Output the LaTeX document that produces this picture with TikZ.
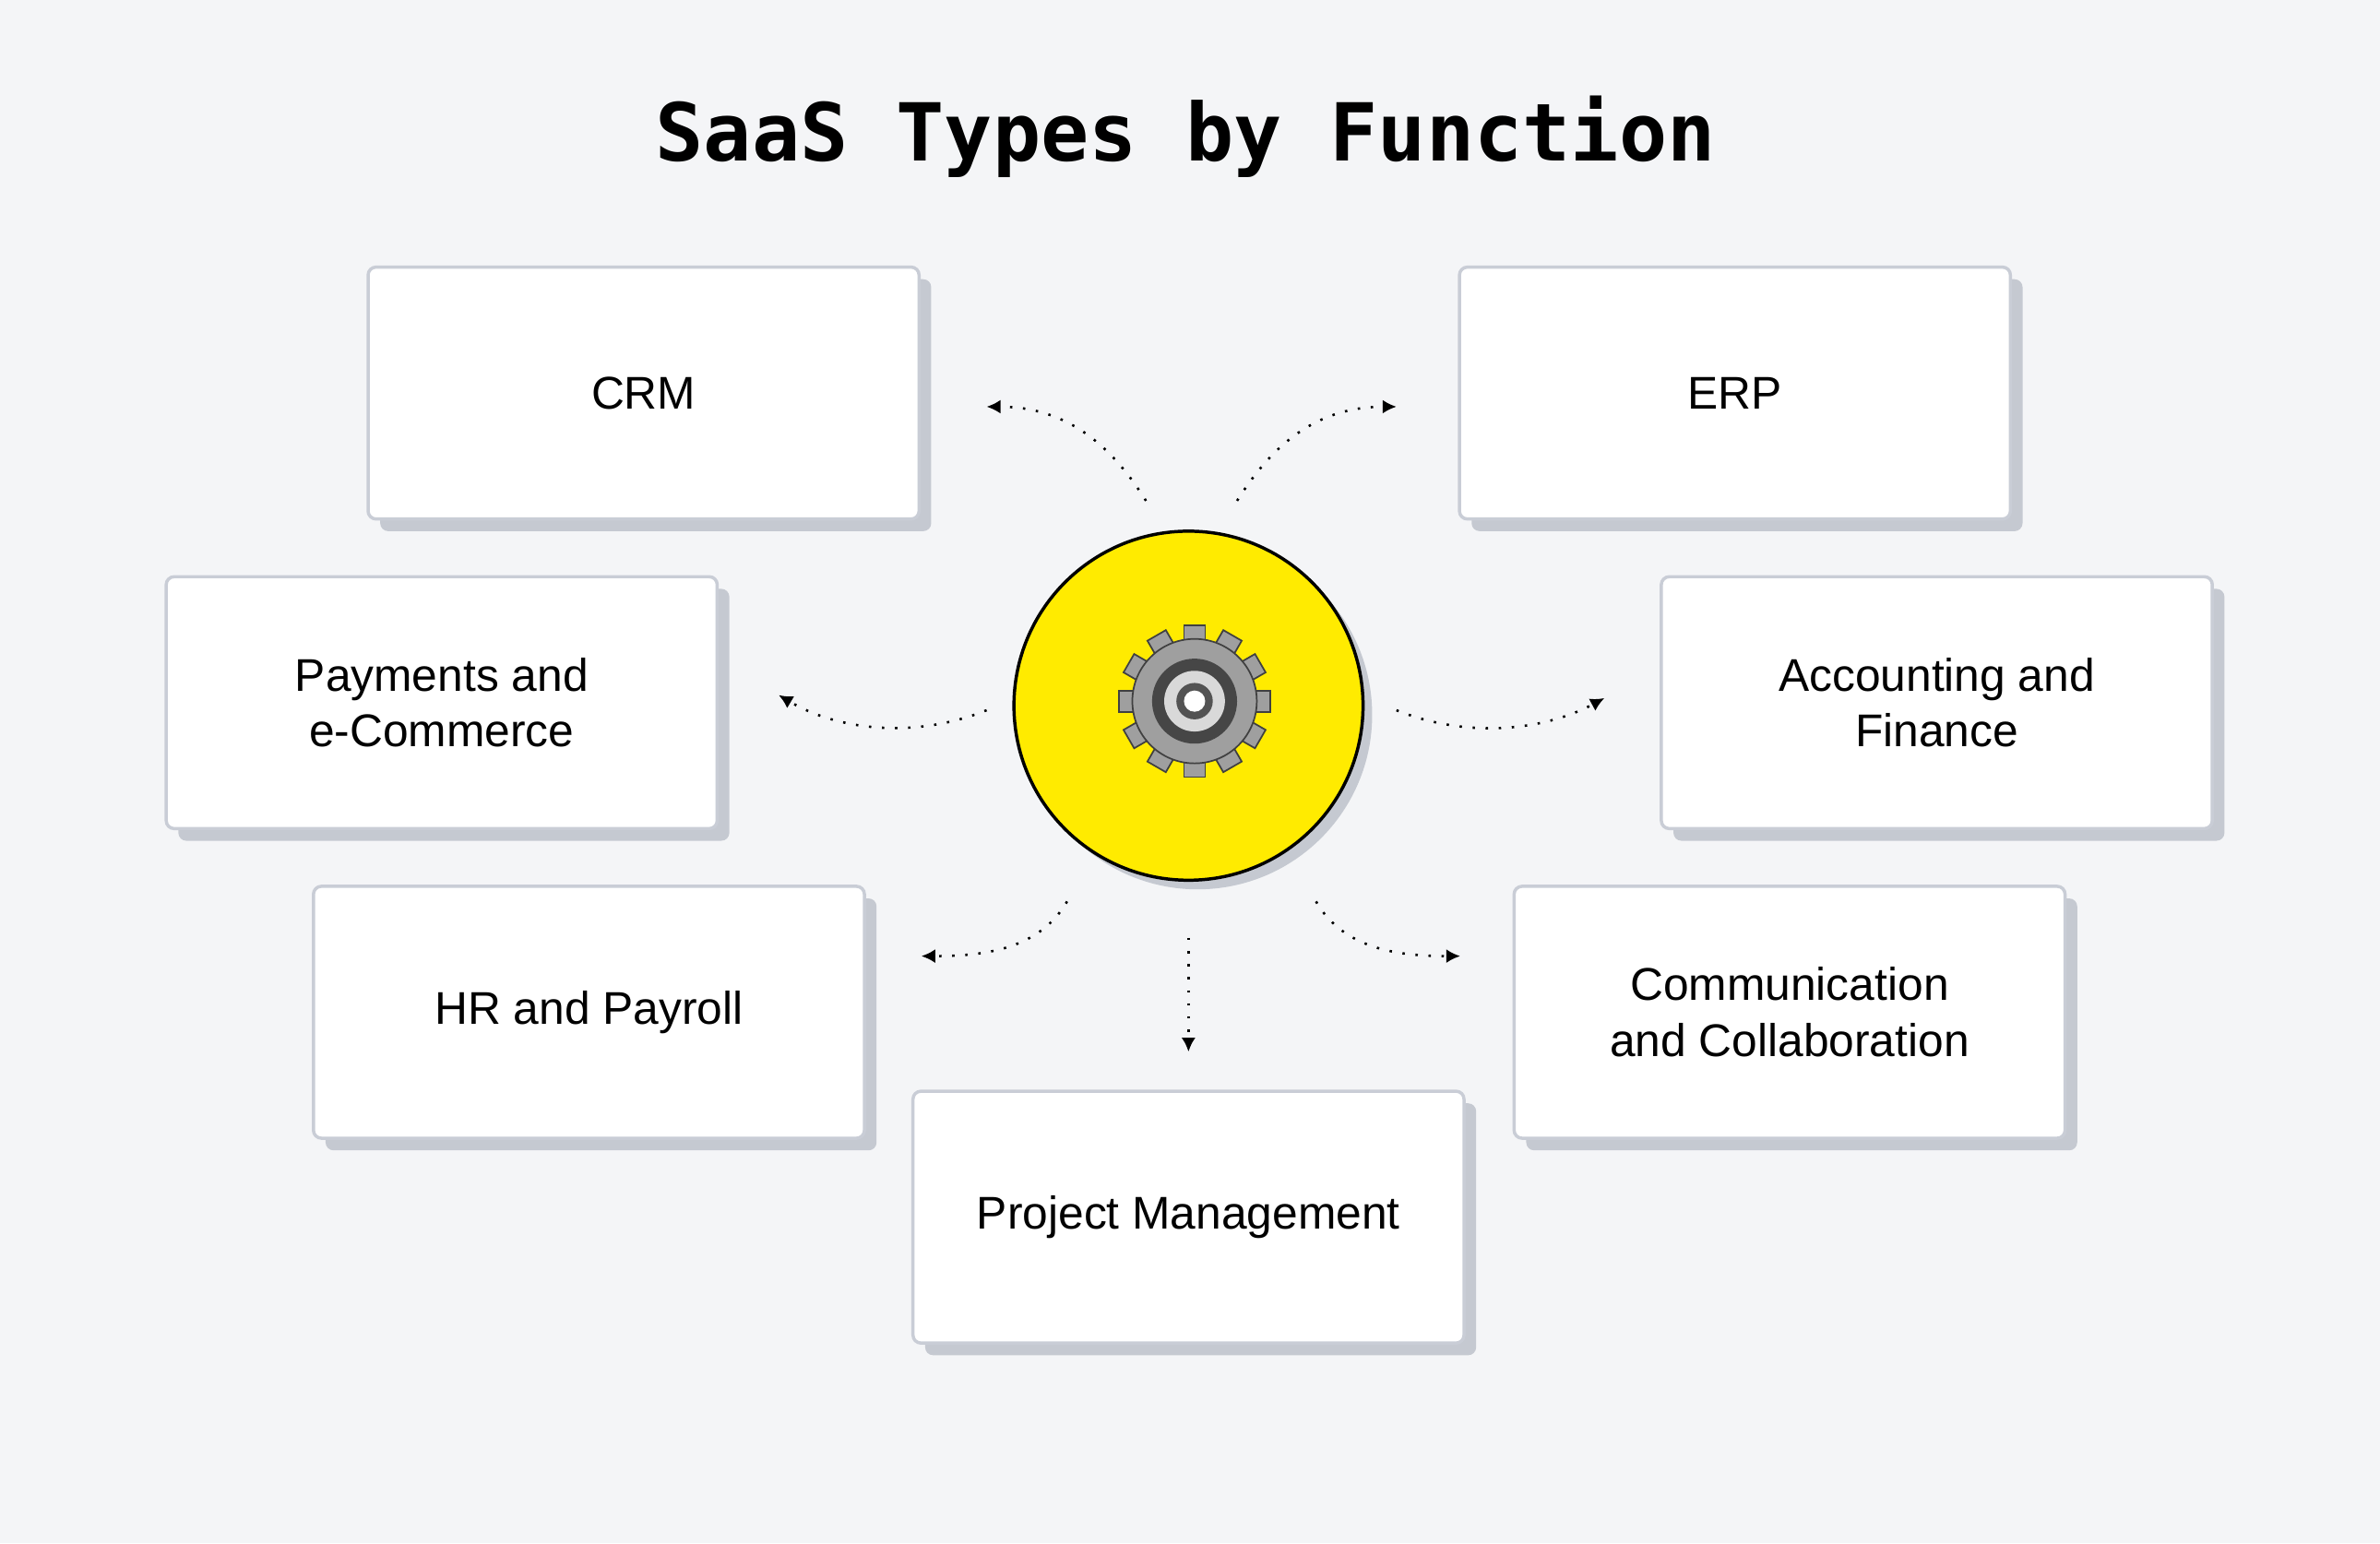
\documentclass[tikz,border=0pt]{standalone}
\usepackage{fontspec}
\setmainfont{Liberation Sans}
\newfontfamily\titlefont{DejaVu Sans Mono}
\usetikzlibrary{arrows.meta,positioning}
\definecolor{bgc}{HTML}{F4F5F7}
\definecolor{shadowc}{HTML}{C5C9D1}
\definecolor{edgec}{HTML}{C9CDD6}
\definecolor{hubc}{HTML}{FFEB00}
\tikzset{box/.style={draw=edgec, line width=0.6pt, fill=white, rounded corners=1.5pt, minimum width=3.63cm, minimum height=1.66cm, align=center, font=\fontsize{8.6}{10.5}\selectfont, text=black},
  shade/.style={fill=shadowc, rounded corners=1.5pt, minimum width=3.63cm, minimum height=1.66cm, draw=none},
  link/.style={dotted, line width=0.45pt, -{Latex[length=2.6pt,width=2.6pt]}}}
\begin{document}
\begin{tikzpicture}[y=-1cm]
    \fill[bgc] (0,0) rectangle (15.68,10.17);
    \useasboundingbox (0,0) rectangle (15.68,10.17);
    \node[font=\titlefont\bfseries\fontsize{15}{18}\selectfont] (title) at (7.81,0.9) {SaaS Types by Function};
    % boxes with their shadows
    \foreach \name/\x/\y/\txt in {crm/4.24/2.59/CRM, erp/11.43/2.59/ERP, pay/2.91/4.63/{Payments and\\e-Commerce}, acc/12.76/4.63/{Accounting and\\Finance}, hr/3.88/6.67/HR and Payroll, com/11.79/6.67/{Communication\\and Collaboration}, pm/7.83/8.02/Project Management} {
        \node[shade] at (\x+0.08,\y+0.08) {};
        \node[box] (\name) at (\x,\y) {\txt};
    }
    % hub
    \fill[shadowc] (7.89,4.71) circle (1.15);
    \node[circle, draw=black, line width=0.6pt, fill=hubc, minimum size=2.3cm] (hub) at (7.83,4.65) {};
    % gear
    \foreach \a in {0,30,...,330}
        \fill[gray!75, draw=gray!50!black, line width=0.3pt, rotate around={\a:(7.87,4.62)}] (7.80,4.12) rectangle (7.94,4.26);
    \fill[gray!75, draw=gray!50!black, line width=0.3pt] (7.87,4.62) circle (0.41);
    \fill[gray!55!black] (7.87,4.62) circle (0.28);
    \fill[gray!30] (7.87,4.62) circle (0.20);
    \fill[gray!65!black] (7.87,4.62) circle (0.12);
    \fill[white] (7.87,4.62) circle (0.07);
    % links
    \coordinate (c1) at (7.55,3.30); \coordinate (e1) at (6.50,2.68);
    \coordinate (c2) at (8.15,3.30); \coordinate (e2) at (9.20,2.68);
    \coordinate (c3) at (6.50,4.68); \coordinate (e3) at (5.13,4.58);
    \coordinate (c4) at (9.20,4.68); \coordinate (e4) at (10.57,4.60);
    \coordinate (c5) at (7.03,5.94); \coordinate (e5) at (6.07,6.30);
    \coordinate (c6) at (8.67,5.94); \coordinate (e6) at (9.62,6.30);
    \coordinate (c7) at (7.83,6.18); \coordinate (e7) at (7.83,6.93);
    \draw[link] (c1) .. controls (7.30,2.90) and (7.00,2.68) .. (e1);
    \draw[link] (c2) .. controls (8.40,2.90) and (8.70,2.68) .. (e2);
    \draw[link] (c3) .. controls (6.00,4.88) and (5.50,4.80) .. (e3);
    \draw[link] (c4) .. controls (9.70,4.88) and (10.20,4.80) .. (e4);
    \draw[link] (c5) .. controls (6.85,6.25) and (6.50,6.30) .. (e5);
    \draw[link] (c6) .. controls (8.85,6.25) and (9.20,6.30) .. (e6);
    \draw[link] (c7) -- (e7);
\end{tikzpicture}
\end{document}
